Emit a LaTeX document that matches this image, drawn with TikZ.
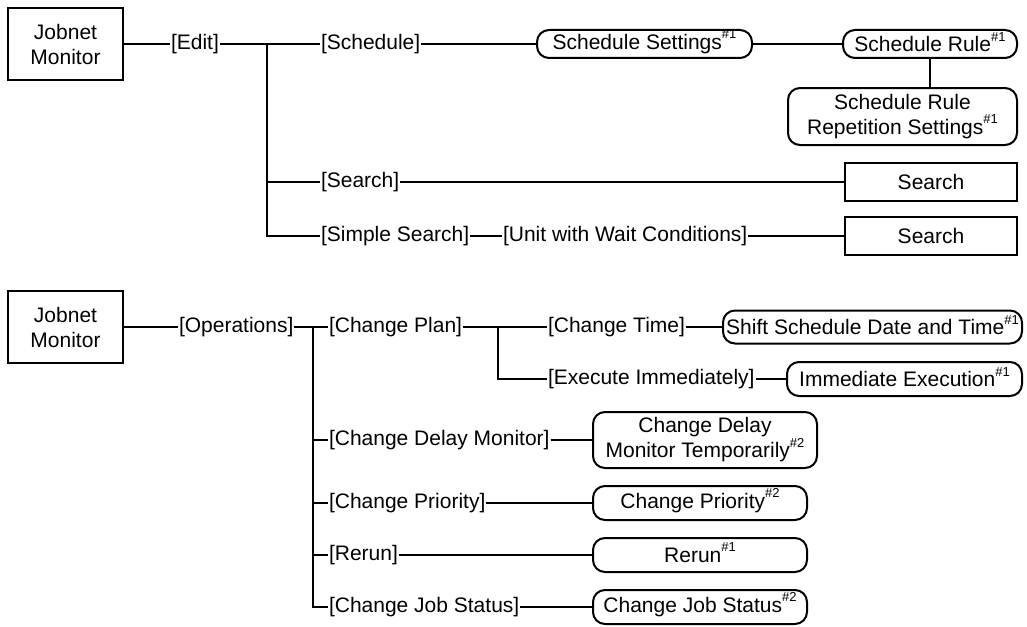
\documentclass[tikz,border=0pt]{standalone}
\usepackage{fontspec}
\setmainfont{Liberation Sans}
\newcommand\fnote[1]{\raisebox{0.5em}[0pt][0pt]{\fontsize{13}{13}\selectfont\##1}}
\begin{document}
\begin{tikzpicture}[x=1pt,y=-1pt,line width=2pt,
  every node/.style={font=\fontsize{21}{25}\selectfont},
  lbl/.style={anchor=west,inner sep=0pt},
  sqbox/.style={draw,rectangle,align=center,inner sep=0pt},
  rbox/.style={draw,rectangle,rounded corners=12pt,align=center,inner sep=0pt}]
\useasboundingbox (0,0) rectangle (1027,626);
% ---------- top ----------
\node[sqbox,minimum width=115pt,minimum height=71pt] (jm1) at (65.5,44) {Jobnet\\Monitor};
\node[lbl] (edit) at (170,44) {[Edit]};
\coordinate (c1) at (267,44);
\node[lbl] (sched) at (320,44) {[Schedule]};
\node[rbox,minimum width=215pt,minimum height=28pt] (ss) at (644.5,44) {Schedule Settings\fnote{1}};
\node[rbox,minimum width=174pt,minimum height=28pt] (sr) at (930,44) {Schedule Rule\fnote{1}};
\node[rbox,minimum width=229pt,minimum height=57pt] (srr) at (902.5,116.5) {Schedule Rule\\Repetition Settings\fnote{1}};
\node[lbl] (search) at (320,182) {[Search]};
\node[sqbox,minimum width=172pt,minimum height=38pt] (sb1) at (931,182) {Search};
\node[lbl] (simple) at (320,236) {[Simple Search]};
\node[lbl] (unit) at (502,236) {[Unit with Wait Conditions]};
\node[sqbox,minimum width=172pt,minimum height=38pt] (sb2) at (931,236) {Search};
\draw (jm1.east) -- (edit.west);
\draw (edit.east) -- (sched.west);
\draw (c1) |- (simple.west);
\draw (c1 |- search.west) -- (search.west);
\draw (sched.east) -- (ss.west);
\draw (ss.east) -- (sr.west);
\draw (sr.south) -- (sr.south |- srr.north);
\draw (search.east) -- (sb1.west);
\draw (simple.east) -- (unit.west);
\draw (unit.east) -- (sb2.west);
% ---------- bottom ----------
\node[sqbox,minimum width=115pt,minimum height=72pt] (jm2) at (65.5,327) {Jobnet\\Monitor};
\node[lbl] (ops) at (178,327) {[Operations]};
\coordinate (c2) at (313,327);
\node[lbl] (plan) at (328,327) {[Change Plan]};
\coordinate (c3) at (498,327);
\node[lbl] (time) at (547,327) {[Change Time]};
\node[rbox,minimum width=299pt,minimum height=33pt] (shift) at (872.5,327) {Shift Schedule Date and Time\fnote{1}};
\node[lbl] (exec) at (547,379) {[Execute Immediately]};
\node[rbox,minimum width=235pt,minimum height=34pt] (imm) at (904.5,379) {Immediate Execution\fnote{1}};
\node[lbl] (delay) at (328,440) {[Change Delay Monitor]};
\node[rbox,minimum width=224pt,minimum height=56pt] (cdm) at (705,440) {Change Delay\\Monitor Temporarily\fnote{2}};
\node[lbl] (prio) at (328,503) {[Change Priority]};
\node[rbox,minimum width=214pt,minimum height=34pt] (cp) at (700,503) {Change Priority\fnote{2}};
\node[lbl] (rerun) at (328,555) {[Rerun]};
\node[rbox,minimum width=214pt,minimum height=34pt] (rb) at (700,555) {Rerun\fnote{1}};
\node[lbl] (status) at (328,607) {[Change Job Status]};
\node[rbox,minimum width=214pt,minimum height=34pt] (cjs) at (700,607) {Change Job Status\fnote{2}};
\draw (jm2.east) -- (ops.west);
\draw (ops.east) -- (plan.west);
\draw (c2) |- (status.west);
\draw (c2 |- delay.west) -- (delay.west);
\draw (c2 |- prio.west) -- (prio.west);
\draw (c2 |- rerun.west) -- (rerun.west);
\draw (plan.east) -- (time.west);
\draw (c3) |- (exec.west);
\draw (time.east) -- (shift.west);
\draw (exec.east) -- (imm.west);
\draw (delay.east) -- (cdm.west);
\draw (prio.east) -- (cp.west);
\draw (rerun.east) -- (rb.west);
\draw (status.east) -- (cjs.west);
\end{tikzpicture}
\end{document}
